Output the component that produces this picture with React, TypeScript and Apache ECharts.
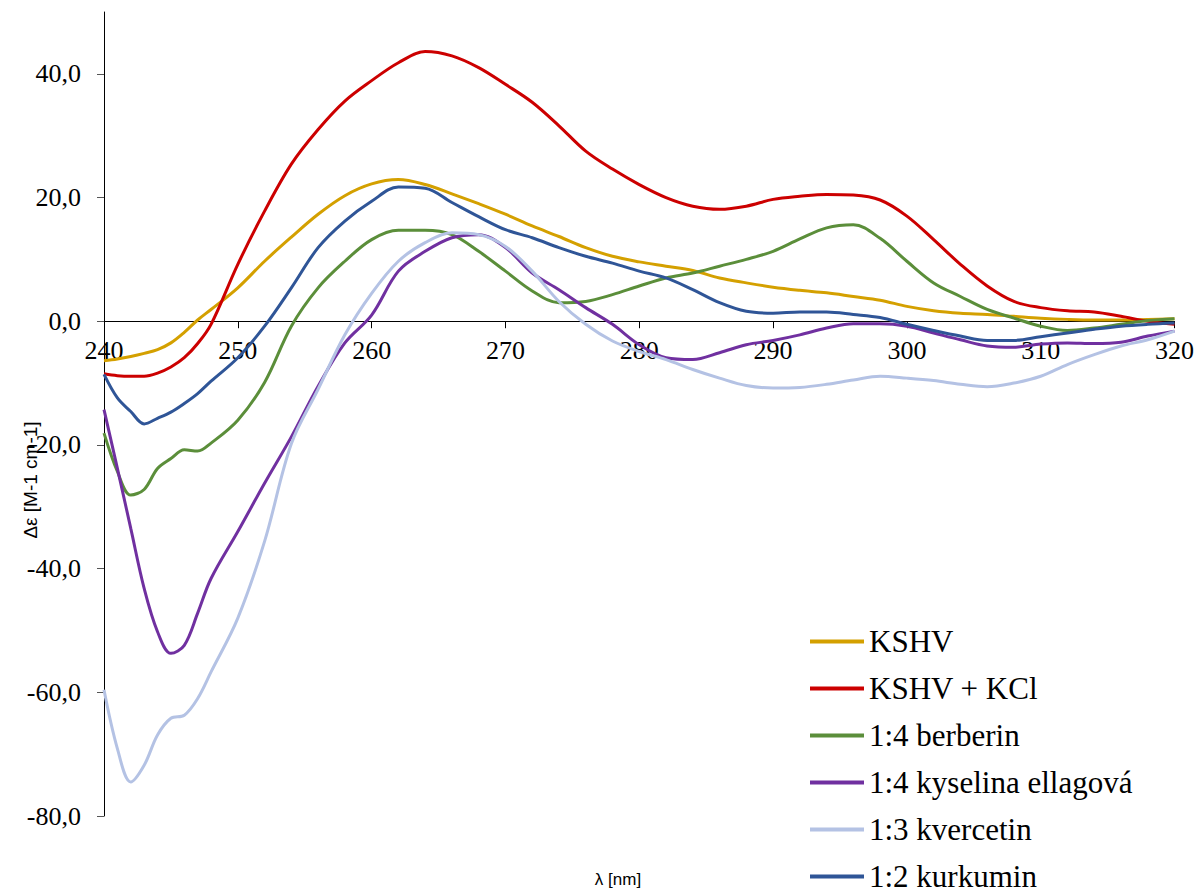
import React, { useEffect, useRef } from "react";
import * as echarts from "echarts";

const wavelengths = [240, 241, 242, 243, 244, 245, 246, 247, 248, 250, 252, 254, 256, 258, 260, 262, 264, 266, 268, 270, 272, 274, 276, 278, 280, 282, 284, 286, 288, 290, 292, 294, 296, 298, 300, 302, 304, 306, 308, 310, 312, 314, 316, 318, 320];

const kshv = [-6.4, -6.1, -5.7, -5.2, -4.6, -3.5, -1.8, 0.2, 1.9, 5.4, 9.7, 13.6, 17.3, 20.3, 22.2, 22.9, 22.1, 20.6, 19.0, 17.3, 15.4, 13.7, 11.9, 10.5, 9.6, 8.9, 8.2, 7.0, 6.2, 5.5, 5.0, 4.6, 4.0, 3.4, 2.4, 1.7, 1.3, 1.1, 0.8, 0.5, 0.3, 0.2, 0.2, 0.3, 0.4];
const kshvKcl = [-8.5, -8.8, -8.9, -8.9, -8.4, -7.4, -5.9, -3.6, -0.5, 9.2, 17.8, 25.4, 31.0, 35.6, 38.9, 41.8, 43.6, 42.9, 41.0, 38.3, 35.4, 31.6, 27.5, 24.6, 22.1, 20.0, 18.6, 18.1, 18.6, 19.7, 20.2, 20.5, 20.4, 19.6, 17.0, 13.2, 9.2, 5.7, 3.2, 2.2, 1.7, 1.5, 0.8, 0.0, -0.5];
const berberin = [-18.1, -24.3, -28.1, -27.2, -23.8, -22.2, -20.8, -21.0, -19.7, -16.0, -9.9, -0.8, 5.4, 9.7, 13.2, 14.7, 14.7, 14.0, 11.3, 8.1, 4.9, 3.0, 3.2, 4.3, 5.7, 7.0, 7.8, 8.9, 10.0, 11.3, 13.3, 15.1, 15.6, 13.4, 9.7, 6.2, 4.0, 1.9, 0.5, -0.8, -1.5, -1.1, -0.5, 0.1, 0.4];
const ellagova = [-14.3, -23.8, -33.5, -43.2, -50.2, -53.7, -52.4, -47.2, -41.6, -34.0, -26.2, -18.7, -10.5, -3.5, 1.0, 8.1, 11.3, 13.5, 14.0, 11.9, 7.8, 5.1, 2.2, -0.5, -3.8, -5.9, -6.2, -5.1, -3.8, -3.1, -2.2, -1.1, -0.4, -0.4, -0.8, -1.9, -3.0, -4.0, -4.2, -3.7, -3.5, -3.6, -3.4, -2.4, -1.6];
const kvercetin = [-59.6, -69.1, -74.5, -71.8, -66.9, -64.2, -63.7, -61.0, -56.7, -48.0, -35.6, -19.8, -11.0, -2.2, 4.5, 9.7, 12.7, 14.3, 14.0, 12.1, 8.1, 3.2, -0.5, -3.2, -4.9, -6.2, -7.8, -9.2, -10.4, -10.8, -10.7, -10.2, -9.5, -8.9, -9.2, -9.6, -10.2, -10.6, -10.0, -8.9, -7.0, -5.4, -4.0, -3.0, -1.6];
const kurkumin = [-8.6, -12.4, -14.6, -16.6, -15.7, -14.7, -13.3, -11.7, -9.7, -5.9, -0.8, 5.4, 11.9, 16.2, 19.4, 21.7, 21.5, 19.2, 16.9, 14.8, 13.5, 11.9, 10.5, 9.4, 8.1, 7.0, 5.1, 3.0, 1.6, 1.3, 1.5, 1.5, 1.1, 0.6, -0.5, -1.5, -2.4, -3.1, -3.1, -2.5, -1.9, -1.3, -0.8, -0.5, -0.3];

const seriesNames = ["KSHV", "KSHV + KCl", "1:4 berberin", "1:4 kyselina ellagová", "1:3 kvercetin", "1:2 kurkumin"];
const seriesValues = [kshv, kshvKcl, berberin, ellagova, kvercetin, kurkumin];
const seriesColors = ["#D4A000", "#CC0000", "#5B8E3A", "#7030A0", "#B4C2E4", "#2F5597"];

const yTicks = [-80, -60, -40, -20, 0, 20, 40];
const xTicks = [240, 250, 260, 270, 280, 290, 300, 310, 320];

const GRID_BOTTOM = 76;
const HEIGHT = 892;

export default function App() {
  const ref = useRef<HTMLDivElement>(null);
  useEffect(() => {
    if (!ref.current) return;
    const chart = echarts.init(ref.current, undefined, { renderer: "svg" });
    const serif = "'Liberation Serif', 'Times New Roman', serif";
    const sans = "'Liberation Sans', Arial, sans-serif";
    chart.setOption({
      animation: false,
      backgroundColor: "#ffffff",
      grid: { left: 104, right: 21, top: 12, bottom: GRID_BOTTOM, containLabel: false },
      xAxis: {
        type: "value",
        min: 240,
        max: 320,
        interval: 10,
        axisLine: { onZero: false, lineStyle: { color: "#000", width: 1 } },
        axisTick: { show: true, length: 7, lineStyle: { color: "#000" }, customValues: xTicks },
        axisLabel: {
          fontFamily: serif,
          fontSize: 26,
          color: "#000",
          margin: 16,
          customValues: xTicks,
          formatter: (v: number) => String(v),
        },
        splitLine: { show: false },
      },
      yAxis: {
        type: "value",
        min: -80,
        max: 50,
        interval: 20,
        axisLine: { show: true, onZero: false, lineStyle: { color: "#000", width: 1 } },
        axisTick: { show: true, length: 7, lineStyle: { color: "#555" }, customValues: yTicks },
        axisLabel: {
          fontFamily: serif,
          fontSize: 26,
          color: "#000",
          margin: 23,
          customValues: yTicks,
          formatter: (v: number) => v.toFixed(1).replace(".", ","),
        },
        splitLine: { show: false },
      },
      legend: {
        orient: "vertical",
        left: 810,
        top: 626,
        height: 320,
        padding: 0,
        icon: "rect",
        itemWidth: 54,
        itemHeight: 4,
        itemGap: 16,
        textStyle: { fontFamily: serif, fontSize: 31, lineHeight: 31, color: "#000" },
        data: seriesNames,
      },
      series: seriesNames.map((name, i) => ({
        name,
        type: "line",
        smooth: 0.35,
        showSymbol: false,
        symbol: "none",
        color: seriesColors[i],
        lineStyle: { width: 3, color: seriesColors[i] },
        data: wavelengths.map((w, j) => [w, seriesValues[i][j]]),
      })),
      graphic: [
        {
          type: "text",
          x: 30,
          y: 480,
          rotation: Math.PI / 2,
          style: {
            text: "Δε [M-1 cm-1]",
            font: `19px ${sans}`,
            fill: "#000",
            align: "center",
            verticalAlign: "middle",
          },
        },
        {
          type: "text",
          x: 618,
          y: 879,
          style: {
            text: "λ [nm]",
            font: `17px ${sans}`,
            fill: "#000",
            align: "center",
            verticalAlign: "middle",
          },
        },
      ],
    });
    const y0 = chart.convertToPixel({ yAxisIndex: 0 }, 0) as number;
    const offset = -((HEIGHT - GRID_BOTTOM) - y0);
    chart.setOption({ xAxis: { offset } });
    return () => chart.dispose();
  }, []);
  return (
    <div
      ref={ref}
      style={{ position: "fixed", left: 0, top: 0, width: 1197, height: 892, background: "#fff" }}
    />
  );
}
